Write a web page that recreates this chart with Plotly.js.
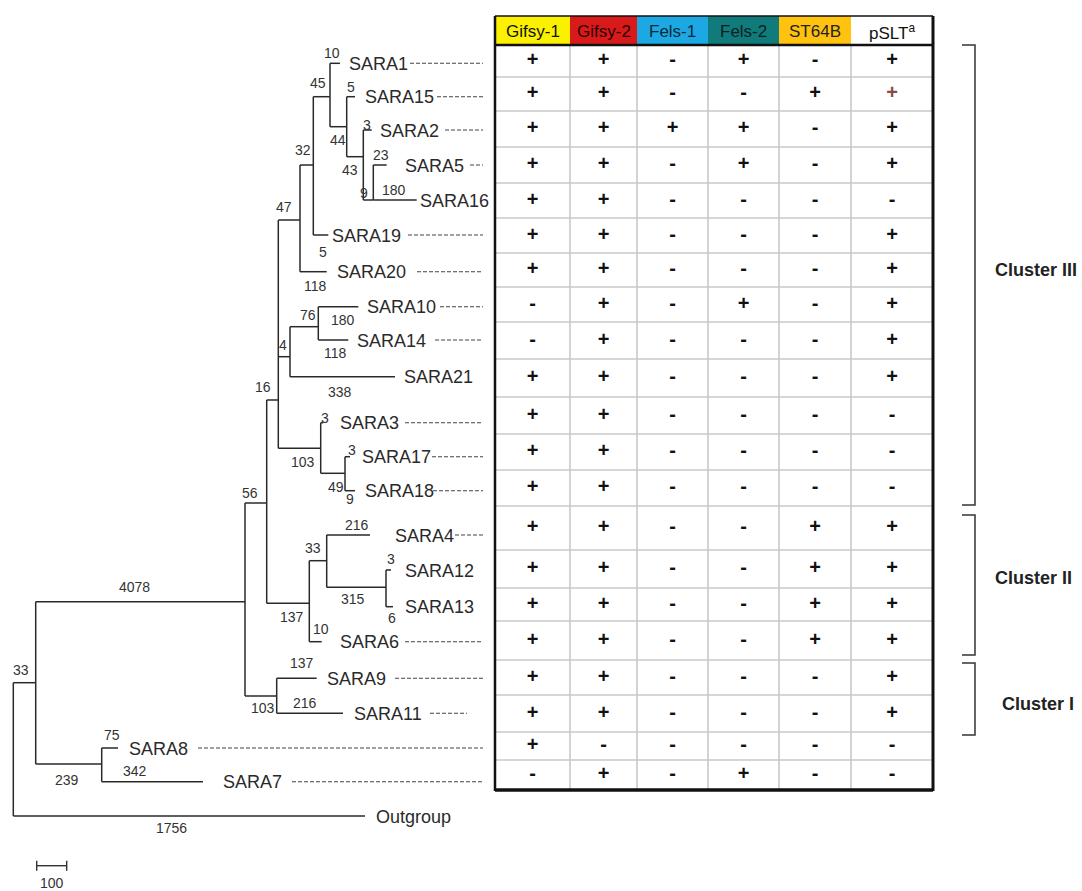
<!DOCTYPE html>
<html><head><meta charset="utf-8">
<script src="https://cdn.plot.ly/plotly-3.0.1.min.js"></script>
<style>html,body{margin:0;padding:0;background:#fff}#chart{width:1082px;height:891px}</style>
</head><body><div id="chart"></div>
<script>
// ================= DATA =================
const strains = ['SARA1','SARA15','SARA2','SARA5','SARA16','SARA19','SARA20','SARA10','SARA14','SARA21','SARA3','SARA17','SARA18','SARA4','SARA12','SARA13','SARA6','SARA9','SARA11','SARA8','SARA7'];
const phages  = ['Gifsy-1','Gifsy-2','Fels-1','Fels-2','ST64B','pSLT<sup>a</sup>'];
const gifsy1 = ['+','+','+','+','+','+','+','-','-','+','+','+','+','+','+','+','+','+','+','+','-'];
const gifsy2 = ['+','+','+','+','+','+','+','+','+','+','+','+','+','+','+','+','+','+','+','-','+'];
const fels1  = ['-','-','+','-','-','-','-','-','-','-','-','-','-','-','-','-','-','-','-','-','-'];
const fels2  = ['+','-','+','+','-','-','-','+','-','-','-','-','-','-','-','-','-','-','-','-','+'];
const st64b  = ['-','+','-','-','-','-','-','-','-','-','-','-','-','+','+','+','+','-','-','-','-'];
const pslt   = ['+','+','+','+','-','+','+','+','+','+','-','-','-','+','+','+','+','+','+','-','-'];
const clusterNames = ['Cluster III','Cluster II','Cluster I'];

// tree topology: node, parent, branch-length label
const treeNode   = ['root','n1','Outgroup','nA','n239','SARA8','SARA7','n56','n103b','SARA9','SARA11','n16','n137','n33','SARA6','SARA4','n315','SARA12','SARA13','n47','n4','n103','n32','SARA20','n45','SARA19','SARA1','n44','SARA15','n43','SARA2','n9','SARA5','SARA16','n76','SARA21','SARA10','SARA14','SARA3','n49','SARA17','SARA18'];
const treeParent = [null,'root','root','n1','n1','n239','n239','nA','nA','n103b','n103b','n56','n56','n137','n137','n33','n33','n315','n315','n16','n16','n16','n47','n47','n32','n32','n45','n45','n44','n44','n43','n43','n9','n9','n4','n4','n76','n76','n103','n103','n49','n49'];
const branchLen  = [null,33,1756,4078,239,75,342,56,103,137,216,16,137,33,10,216,315,3,6,47,4,103,32,118,45,5,10,44,5,43,3,9,23,180,76,338,180,118,3,49,3,9];
const scaleBarValue = 100;

// ================= LAYOUT (drawing positions) =================
const W = 1082, H = 891;
const nodePos = {
 root:[13.3,682.7], n1:[35.7,682.7], Outgroup:[365,816], nA:[245,601.7], n239:[101.7,764],
 SARA8:[118,748], SARA7:[203,781.7], n56:[266.7,503], n103b:[276.7,696], SARA9:[316.7,678.3],
 SARA11:[343,713.3], n16:[278.3,400], n137:[309.3,603.3], n33:[326.7,560.7], SARA6:[321.7,641.7],
 SARA4:[370,535], n315:[386,587.3], SARA12:[391,570], SARA13:[393,606.7], n47:[300,220],
 n4:[290,356.7], n103:[320.7,448.3], n32:[313.3,165], SARA20:[326.7,271.7], n45:[330,96.7],
 SARA19:[328.3,235], SARA1:[340,63.3], n44:[346.7,126.7], SARA15:[355,96.7], n43:[363.3,156.7],
 SARA2:[371.7,130], n9:[373.3,200], SARA5:[386.7,165], SARA16:[416.7,200], n76:[318.3,326.7],
 SARA21:[395,376.7], SARA10:[358.3,306.7], SARA14:[348.3,340], SARA3:[323.3,422.7], n49:[345,473.3],
 SARA17:[350,456.7], SARA18:[355,490.7]
};
const branchLabelPos = {
 n1:[20.7,670], Outgroup:[171.7,828.3], nA:[134,587.3], n239:[66.7,780], SARA8:[111.7,735], SARA7:[135,770.7],
 n56:[250,493.3], n103b:[263.3,708.3], SARA9:[301.7,662.7], SARA11:[305,702.7], n16:[262.7,387.3],
 n137:[291.7,616.7], n33:[313.3,548.3], SARA6:[320.7,629.3], SARA4:[356.7,525], n315:[353.3,599.3],
 SARA12:[391,559.3], SARA13:[391.7,618.3], n47:[284.3,206.7], n4:[282.7,345], n103:[302.7,461.7],
 n32:[303.3,150], SARA20:[315,286], n45:[318.3,83.3], SARA19:[322.7,251.7], SARA1:[331.7,52.7],
 n44:[338.3,140], SARA15:[350.7,87.3], n43:[350,170], SARA2:[367.3,125], n9:[364,193.3],
 SARA5:[381,155.3], SARA16:[394.3,190], n76:[308.3,315], SARA21:[340,391.7], SARA10:[343.3,320],
 SARA14:[335,352.7], SARA3:[325,418.3], n49:[336,487.3], SARA17:[351.7,450], SARA18:[350,499.3]
};
const leafLabelX = {SARA1:347,SARA15:363,SARA2:378,SARA5:403,SARA16:418,SARA19:330,SARA20:335,SARA10:365,SARA14:355,SARA21:402,SARA3:338,SARA17:360,SARA18:363,SARA4:393,SARA12:403,SARA13:403,SARA6:338,SARA9:325,SARA11:352,SARA8:127,SARA7:221,Outgroup:374};
const leaderStartX = {SARA1:410,SARA15:437,SARA2:445,SARA5:470,SARA19:408,SARA20:417,SARA10:440,SARA14:435,SARA3:405,SARA17:432,SARA18:433,SARA4:455,SARA6:405,SARA9:395,SARA11:430,SARA8:198,SARA7:292};
const leaderEndX = {SARA11:467};
const leaderEndDefault = 483;
const rowEdges = [45,77,111,147,183,218,253,287,322,359,397,434,470,506,550,588,621,660,695,732,760,790];
const colEdges = [495,570,637,708,779,851,933];
const headerTop = 16;
const headerColors = ['#FAF000','#D81A1A','#1CA8E2','#117B7B','#FFC20E','#FFFFFF'];
const headerTextColors = ['#111','#2a0000','#0b2a3a','#062222','#222','#111'];
const bracketTop = [45,515,663], bracketBottom = [505,655,735], bracketX = 975, bracketTick = 13;
const clusterLabelPos = [[993,270],[993,578],[1000,704]];
const scaleBar = {x0:36.7, y:865.7, pxPerUnit:0.3, labelY:883};

// ================= BUILD =================
const FONT = 'Arial, "Liberation Sans", sans-serif';
const traces = [], shapes = [], annotations = [];

// tree lines
const tx = [], ty = [];
treeNode.forEach((n,i)=>{
  const kids = treeNode.filter((c,j)=>treeParent[j]===n);
  if(!kids.length) return;
  const [px,py] = nodePos[n];
  const ys = kids.map(k=>nodePos[k][1]).concat([py]);
  tx.push(px,px,null); ty.push(Math.min(...ys),Math.max(...ys),null);
  kids.forEach(k=>{ const [cx,cy]=nodePos[k]; tx.push(px,cx,null); ty.push(cy,cy,null); });
});
traces.push({x:tx,y:ty,mode:'lines',line:{color:'#2a2a2a',width:1.5},hoverinfo:'skip'});

// branch labels
treeNode.forEach((n,i)=>{
  if(branchLen[i]===null) return;
  const p = branchLabelPos[n];
  annotations.push({x:p[0],y:p[1],xref:'x',yref:'y',text:String(branchLen[i]),showarrow:false,
    xanchor:'center',yanchor:'middle',font:{family:FONT,size:14,color:'#333'}});
});

// leaf labels
Object.keys(leafLabelX).forEach(n=>{
  annotations.push({x:leafLabelX[n],y:nodePos[n][1]+0.5,xref:'x',yref:'y',text:n,showarrow:false,
    xanchor:'left',yanchor:'middle',font:{family:FONT,size:18,color:'#2a2a2a'}});
});

// leaders
const lx=[], ly=[];
Object.keys(leaderStartX).forEach(n=>{
  const y = nodePos[n][1];
  lx.push(leaderStartX[n], leaderEndX[n]||leaderEndDefault, null); ly.push(y,y,null);
});
traces.push({x:lx,y:ly,mode:'lines',line:{color:'#444',width:1.1,dash:'4px,2px'},hoverinfo:'skip'});

// table header
phages.forEach((p,j)=>{
  shapes.push({type:'rect',xref:'x',yref:'y',x0:colEdges[j],x1:colEdges[j+1],y0:headerTop,y1:rowEdges[0],
    fillcolor:headerColors[j],line:{width:0},layer:'below'});
  annotations.push({x:(colEdges[j]+colEdges[j+1])/2,y:(headerTop+rowEdges[0])/2+1,xref:'x',yref:'y',text:p,showarrow:false,
    xanchor:'center',yanchor:'middle',font:{family:FONT,size:17,color:headerTextColors[j]}});
});
// grid lines
for(let i=1;i<rowEdges.length-1;i++)
  shapes.push({type:'line',xref:'x',yref:'y',x0:colEdges[0],x1:colEdges[6],y0:rowEdges[i],y1:rowEdges[i],line:{color:'#c8c8c8',width:1.6}});
for(let j=1;j<colEdges.length-1;j++)
  shapes.push({type:'line',xref:'x',yref:'y',x0:colEdges[j],x1:colEdges[j],y0:rowEdges[0],y1:rowEdges[rowEdges.length-1],line:{color:'#c8c8c8',width:1.6}});
// borders
const B = (x0,y0,x1,y1,w)=>shapes.push({type:'line',xref:'x',yref:'y',x0,y0,x1,y1,line:{color:'#111',width:w}});
B(colEdges[0],headerTop,colEdges[6],headerTop,1.5);
B(colEdges[0],rowEdges[0],colEdges[6],rowEdges[0],2.5);
B(colEdges[0],headerTop,colEdges[0],rowEdges[21]+1,2.5);
B(colEdges[6],headerTop,colEdges[6],rowEdges[21]+1,3);
B(colEdges[0],rowEdges[21],colEdges[6],rowEdges[21],3.5);

// table symbols
const cols = [gifsy1,gifsy2,fels1,fels2,st64b,pslt];
const rowC = strains.map((s,i)=>(rowEdges[i]+rowEdges[i+1])/2);
cols.forEach((vals,j)=>{
  const cx = (colEdges[j]+colEdges[j+1])/2;
  traces.push({x:vals.map(()=>cx),y:rowC,text:vals.map(v=>'<b>'+v+'</b>'),mode:'text',textposition:'middle center',
    textfont:{family:FONT,size:20,color:vals.map((v,i)=>(j===5&&strains[i]==='SARA15')?'#8a4848':'#111')},hoverinfo:'skip'});
});

// cluster brackets
clusterNames.forEach((c,k)=>{
  const bx=[bracketX-bracketTick,bracketX,bracketX,bracketX-bracketTick];
  const by=[bracketTop[k],bracketTop[k],bracketBottom[k],bracketBottom[k]];
  traces.push({x:bx,y:by,mode:'lines',line:{color:'#333',width:1.5},hoverinfo:'skip'});
  annotations.push({x:clusterLabelPos[k][0],y:clusterLabelPos[k][1],xref:'x',yref:'y',text:'<b>'+c+'</b>',showarrow:false,
    xanchor:'left',yanchor:'middle',font:{family:FONT,size:18,color:'#222'}});
});

// scale bar
const sbx1 = scaleBar.x0 + scaleBarValue*scaleBar.pxPerUnit;
traces.push({x:[scaleBar.x0,sbx1,null,scaleBar.x0,scaleBar.x0,null,sbx1,sbx1],
  y:[scaleBar.y,scaleBar.y,null,scaleBar.y-5,scaleBar.y+5,null,scaleBar.y-5,scaleBar.y+5],
  mode:'lines',line:{color:'#333',width:1.4},hoverinfo:'skip'});
annotations.push({x:(scaleBar.x0+sbx1)/2,y:scaleBar.labelY,xref:'x',yref:'y',text:String(scaleBarValue),showarrow:false,
  xanchor:'center',yanchor:'middle',font:{family:FONT,size:14,color:'#333'}});

const layout = {
  width:W,height:H,margin:{l:0,r:0,t:0,b:0},paper_bgcolor:'#fff',plot_bgcolor:'#fff',showlegend:false,
  xaxis:{range:[0,W],visible:false,fixedrange:true},
  yaxis:{range:[H,0],visible:false,fixedrange:true},
  shapes,annotations
};
Plotly.newPlot('chart',traces,layout,{staticPlot:true,displayModeBar:false});
</script></body></html>
